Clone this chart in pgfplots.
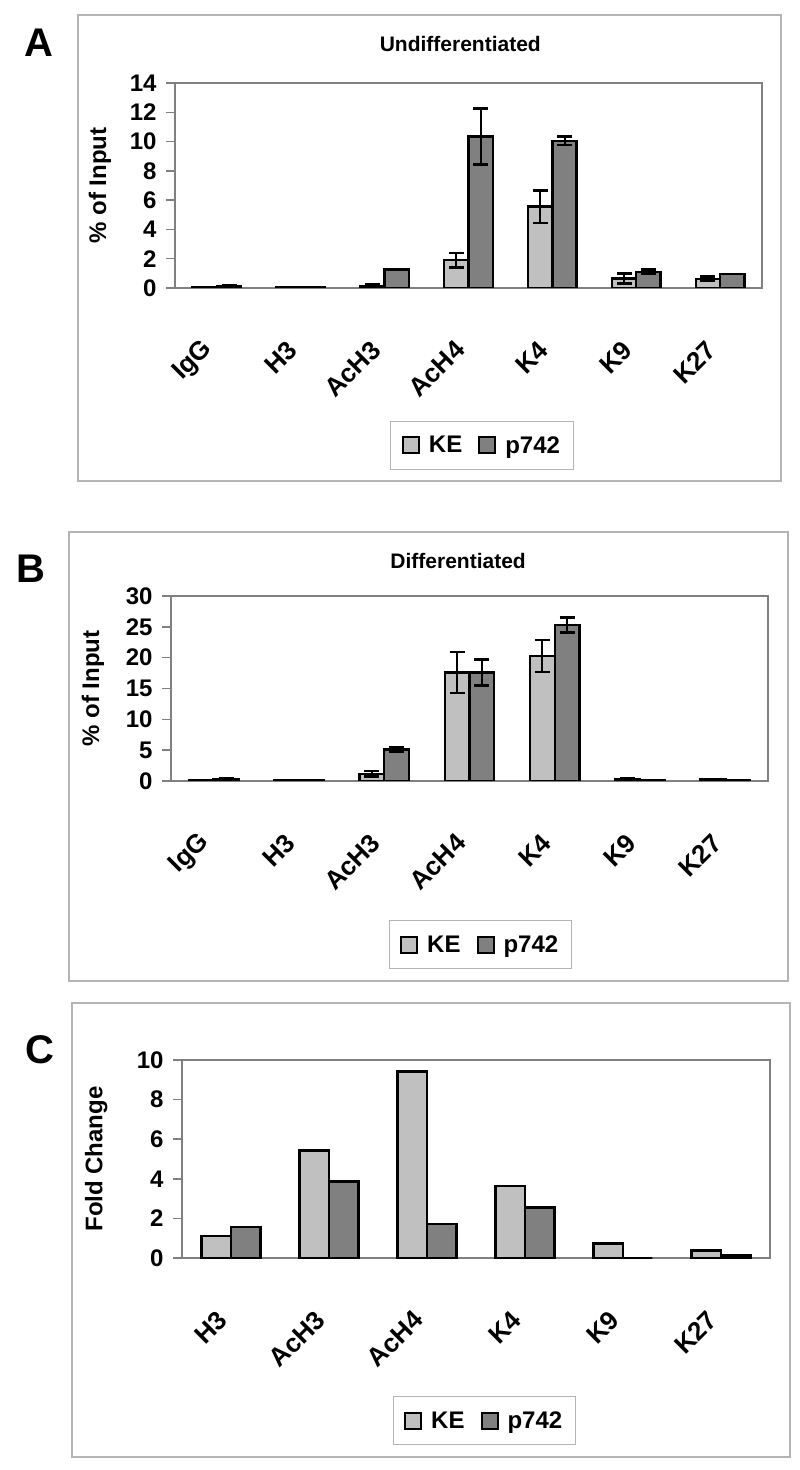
\documentclass[border=0pt]{standalone}
\usepackage{fontspec}
\setmainfont{Liberation Sans}
\usepackage{pgfplots}
\usepackage{pgfplotstable}
\pgfplotsset{compat=1.18}
\definecolor{keC}{HTML}{C0C0C0}
\definecolor{pC}{HTML}{808080}
\definecolor{frameC}{HTML}{B4B4B4}
\definecolor{axC}{HTML}{808080}

\pgfplotstableread{
x ke eke p ep
0 0.02 0 0.12 0.05
1 0.02 0 0.02 0
2 0.15 0.12 1.25 0
3 1.9 0.5 10.35 1.9
4 5.55 1.1 10.05 0.28
5 0.65 0.35 1.1 0.15
6 0.62 0.15 0.95 0
}\dataA

\pgfplotstableread{
x ke eke p ep
0 0.05 0 0.3 0.15
1 0.05 0 0.05 0
2 1.15 0.45 5.1 0.4
3 17.6 3.3 17.6 2.1
4 20.3 2.6 25.3 1.2
5 0.3 0.2 0.05 0
6 0.25 0.05 0.05 0
}\dataB

\pgfplotstableread{
x ke p
0 1.10 1.57
1 5.43 3.86
2 9.41 1.72
3 3.63 2.56
4 0.74 0
5 0.37 0.13
}\dataC

\newcommand\tl{\fontsize{24}{28}\selectfont\bfseries}
\newcommand\xl{\fontsize{26}{30}\selectfont\bfseries}
\newcommand\ttl{\fontsize{21}{25}\selectfont\bfseries}

\pgfplotsset{
  panel/.style={
    scale only axis, xmin=-0.5, ymin=0,
    axis line style={draw=axC, line width=2pt},
    tick align=outside, major tick length=9pt,
    ytick pos=left,
    ytick style={draw=axC, line width=1.5pt},
    xtick style={draw=none},
    tick label style={font=\tl},
    /pgf/number format/assume math mode=true,
    yticklabel style={xshift=-6pt},
    xticklabel style={font=\xl, xshift=-6pt, yshift=-46pt, rotate=45, anchor=east},
    label style={font=\tl},
    title style={font=\ttl},
    legend columns=2,
    legend style={draw=frameC, line width=1pt, font=\tl, anchor=center,
      inner xsep=11pt, inner ysep=13pt,
      /tikz/every odd column/.append style={column sep=7pt},
      /tikz/every even column/.append style={column sep=14pt}},
    legend image code/.code={\draw[#1, draw=black, line width=2pt] (0pt,-8pt) rectangle (16pt,8pt);},
  },
  keb/.style={ybar, bar width=0.29, bar shift=0pt, fill=keC, draw=black, line width=2.5pt},
  pb/.style={ybar, bar width=0.29, bar shift=0pt, fill=pC, draw=black, line width=2.5pt},
  eb/.style={error bars/.cd, y dir=both, y explicit,
    error bar style={line width=2pt, black},
    error mark options={rotate=90, mark size=7.5pt, line width=2.5pt, black}},
}

\begin{document}
\begin{tikzpicture}[x=1pt,y=1pt]
\useasboundingbox (0,0) rectangle (800,1470);
% outer frames
\draw[frameC, line width=1.5pt] (78,989) rectangle (781,1455);
\draw[frameC, line width=1.5pt] (69,489) rectangle (788,938);
\draw[frameC, line width=1.5pt] (72,13) rectangle (790,467);
\node[font=\fontsize{40}{44}\selectfont\bfseries] at (39,1427) {A};
\node[font=\fontsize{40}{44}\selectfont\bfseries] at (31,901) {B};
\node[font=\fontsize{40}{44}\selectfont\bfseries] at (40,420) {C};

% Panel A
\begin{axis}[panel, at={(175pt,1182pt)}, anchor=south west,
  width=587pt, height=205pt, xmax=6.5, ymax=14, ytick={0,2,...,14},
  xtick={0,...,6},
  xticklabels={IgG,H3,AcH3,AcH4,K4,K9,K27},
  ylabel={\% of Input},
  ylabel style={at={(axis description cs:-0.128,0.5)}, anchor=center},
  title={Undifferentiated},
  title style={at={(axis description cs:0.486,1)}, anchor=center, yshift=33pt},
  legend style={at={(axis description cs:0.523,-0.768)}}]
\addplot[keb, eb] table[x expr=\thisrow{x}-0.145, y=ke, y error=eke] {\dataA};
\addplot[pb, eb] table[x expr=\thisrow{x}+0.145, y=p, y error=ep] {\dataA};
\legend{KE,p742}
\end{axis}

% Panel B
\begin{axis}[panel, at={(171pt,689pt)}, anchor=south west,
  width=597pt, height=185pt, xmax=6.5, ymax=30, ytick={0,5,...,30},
  xtick={0,...,6},
  xticklabels={IgG,H3,AcH3,AcH4,K4,K9,K27},
  ylabel={\% of Input},
  ylabel style={at={(axis description cs:-0.131,0.5)}, anchor=center},
  title={Differentiated},
  title style={at={(axis description cs:0.481,1)}, anchor=center, yshift=29pt},
  legend style={at={(axis description cs:0.518,-0.884)}}]
\addplot[keb, eb] table[x expr=\thisrow{x}-0.145, y=ke, y error=eke] {\dataB};
\addplot[pb, eb] table[x expr=\thisrow{x}+0.145, y=p, y error=ep] {\dataB};
\legend{KE,p742}
\end{axis}

% Panel C
\begin{axis}[panel, at={(182pt,212pt)}, anchor=south west,
  width=588pt, height=198pt, xmax=5.5, ymax=10, ytick={0,2,...,10},
  xtick={0,...,5},
  xticklabels={H3,AcH3,AcH4,K4,K9,K27},
  ylabel={Fold Change},
  ylabel style={at={(axis description cs:-0.146,0.5)}, anchor=center},
  legend style={at={(axis description cs:0.514,-0.821)}}]
\addplot[keb, bar width=0.3] table[x expr=\thisrow{x}-0.15, y=ke] {\dataC};
\addplot[pb, bar width=0.3] table[x expr=\thisrow{x}+0.15, y=p] {\dataC};
\legend{KE,p742}
\end{axis}
\end{tikzpicture}
\end{document}
